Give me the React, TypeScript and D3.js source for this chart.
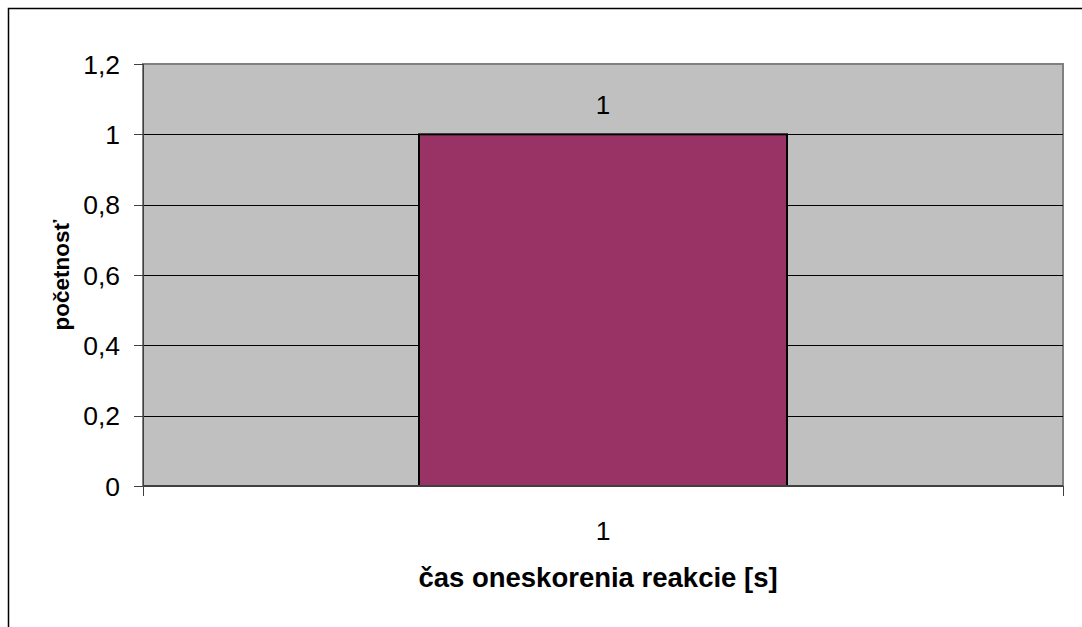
import React from "react";
import * as d3 from "d3";

// Reaction delay histogram: a single class with its frequency
const categories: string[] = ["1"];
const frequencies: number[] = [1];
const yTicks: number[] = [0, 0.2, 0.4, 0.6, 0.8, 1, 1.2];
const xTitle = "čas oneskorenia reakcie [s]";
const yTitle = "početnosť";

const W = 1082;
const H = 627;
const plot = { left: 143, right: 1063, top: 64, bottom: 486 };
const font = "Arial, 'Liberation Sans', sans-serif";
const fmt = (v: number) => String(+v.toFixed(1)).replace(".", ",");

export default function App() {
  const x = d3
    .scaleBand<string>()
    .domain(categories)
    .range([plot.left, plot.right])
    .paddingInner(0.6)
    .paddingOuter(0.3);
  const y = d3.scaleLinear().domain([0, 1.2]).range([plot.bottom, plot.top]);

  return (
    <svg
      width={W}
      height={H}
      style={{ position: "absolute", left: 0, top: 0, display: "block" }}
      fontFamily={font}
    >
      <rect x={0} y={0} width={W} height={H} fill="#ffffff" />
      {/* chart frame */}
      <rect x={8.5} y={8.5} width={W + 20} height={H + 20} fill="none" stroke="#000" strokeWidth={1.5} />

      {/* plot area */}
      <rect
        x={plot.left}
        y={plot.top}
        width={plot.right - plot.left}
        height={plot.bottom - plot.top}
        fill="#c0c0c0"
        stroke="#808080"
        strokeWidth={2}
      />

      {/* gridlines */}
      {yTicks
        .filter((t) => t > 0 && t < 1.2)
        .map((t) => (
          <line
            key={"g" + t}
            x1={plot.left}
            x2={plot.right}
            y1={Math.round(y(t)) + 0.5}
            y2={Math.round(y(t)) + 0.5}
            stroke="#000"
            strokeWidth={1}
          />
        ))}

      {/* bars */}
      {categories.map((c, i) => (
        <rect
          key={"b" + c}
          x={x(c)!}
          y={y(frequencies[i])}
          width={x.bandwidth()}
          height={y(0) - y(frequencies[i])}
          fill="#993366"
          stroke="#000"
          strokeWidth={2}
        />
      ))}

      {/* value labels */}
      {categories.map((c, i) => (
        <text
          key={"v" + c}
          x={x(c)! + x.bandwidth() / 2}
          y={y(frequencies[i]) - 20}
          textAnchor="middle"
          fontSize={26}
          fill="#000"
        >
          {String(frequencies[i])}
        </text>
      ))}

      {/* y axis */}
      <line x1={plot.left + 0.5} x2={plot.left + 0.5} y1={plot.top} y2={plot.bottom + 10} stroke="#404040" strokeWidth={1} />
      {yTicks.map((t) => (
        <g key={"y" + t}>
          <line
            x1={plot.left - 9}
            x2={plot.left}
            y1={Math.round(y(t)) + 0.5}
            y2={Math.round(y(t)) + 0.5}
            stroke="#404040"
            strokeWidth={1}
          />
          <text x={120} y={y(t) + 9.5} textAnchor="end" fontSize={26.5} fill="#000">
            {fmt(t)}
          </text>
        </g>
      ))}

      {/* x axis */}
      <line x1={plot.left} x2={plot.right} y1={plot.bottom} y2={plot.bottom} stroke="#404040" strokeWidth={2} />
      {[plot.left, plot.right].map((px) => (
        <line key={"xt" + px} x1={px + 0.5} x2={px + 0.5} y1={plot.bottom} y2={plot.bottom + 10} stroke="#404040" strokeWidth={1} />
      ))}
      {categories.map((c) => (
        <text key={"xl" + c} x={x(c)! + x.bandwidth() / 2} y={540} textAnchor="middle" fontSize={26.5} fill="#000">
          {c}
        </text>
      ))}

      {/* axis titles */}
      <text x={598} y={587} textAnchor="middle" fontSize={27.5} fontWeight="bold" fill="#000">
        {xTitle}
      </text>
      <text
        transform={`translate(69,${275}) rotate(-90)`}
        textAnchor="middle"
        fontSize={22.5}
        fontWeight="bold"
        fill="#000"
      >
        {yTitle}
      </text>
    </svg>
  );
}
